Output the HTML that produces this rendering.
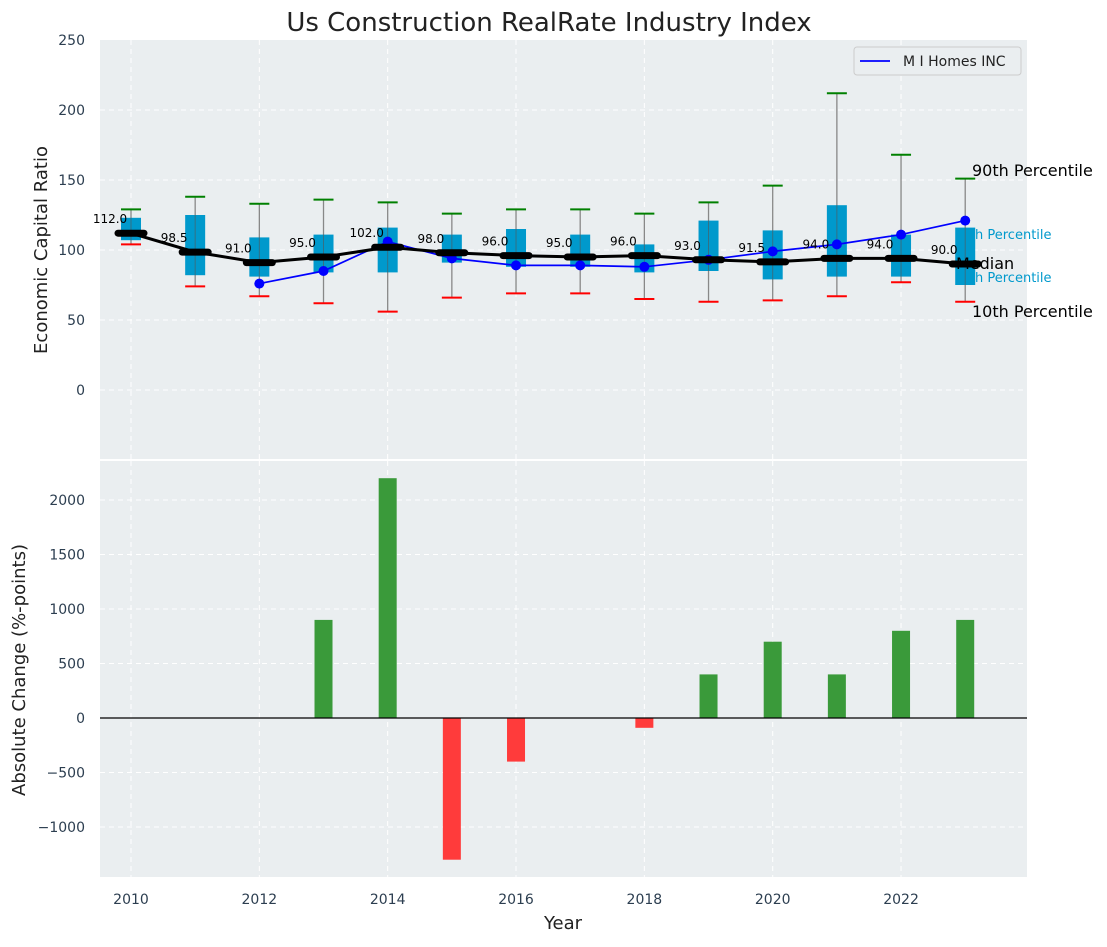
<!DOCTYPE html>
<html><head><meta charset="utf-8"><style>
body{margin:0;background:#fff;font-family:"Liberation Sans","DejaVu Sans",sans-serif;}
svg text{font-family:"DejaVu Sans","Liberation Sans",sans-serif;}
</style></head><body>
<svg id="c" width="1107" height="942" xmlns="http://www.w3.org/2000/svg"></svg>
<script>
const years=[2010,2011,2012,2013,2014,2015,2016,2017,2018,2019,2020,2021,2022,2023];
const medians=[112,98.5,91,95,102,98,96,95,96,93,91.5,94,94,90];
const q1=[107,82,81,84,84,91,88,88,84,85,79,81,81,75];
const q3=[123,125,109,111,116,111,115,111,104,121,114,132,111,116];
const p90=[129,138,133,136,134,126,129,129,126,134,146,212,168,151];
const p10=[104,74,67,62,56,66,69,69,65,63,64,67,77,63];
const companyYears=[2012,2013,2014,2015,2016,2017,2018,2019,2020,2021,2022,2023];
const companyVals=[76,85,106,94,89,89,88,93,99,104,111,121];
const changes=[0,0,0,900,2200,-1300,-400,0,-90,400,700,400,800,900];
const topTicks=[0,50,100,150,200,250];
const botTicks=[-1000,-500,0,500,1000,1500,2000];
const xTicks=[2010,2012,2014,2016,2018,2020,2022];

const svg=document.getElementById('c');
const NS='http://www.w3.org/2000/svg';
function el(t,a,p){const e=document.createElementNS(NS,t);for(const k in a)e.setAttribute(k,a[k]);(p||svg).appendChild(e);return e;}
const L=100,R=1027;
const x=v=>131+(v-2010)*64.17;
const yT=v=>390-1.4*v;
const yB=v=>718-0.109*v;

let t=el('text',{x:549,y:31,'text-anchor':'middle','font-size':26,fill:'#222'});t.textContent='Us Construction RealRate Industry Index';


let p=el('rect',{x:L,y:40,width:R-L,height:419,fill:'#eaeef0'});

p=el('rect',{x:L,y:461,width:R-L,height:416,fill:'#eaeef0'});


for(const v of topTicks){const y=yT(v);
 if(v<250) el('line',{x1:L,x2:R,y1:y,y2:y,stroke:'#fff','stroke-dasharray':'5,4','stroke-width':1});
 let tt=el('text',{x:85,y:y+5,'text-anchor':'end','font-size':14,fill:'#2c3e50'});tt.textContent=v;
 }
for(const v of botTicks){const y=yB(v);
 el('line',{x1:L,x2:R,y1:y,y2:y,stroke:'#fff','stroke-dasharray':'5,4','stroke-width':1});
 let tt=el('text',{x:85,y:y+5,'text-anchor':'end','font-size':14,fill:'#2c3e50'});tt.textContent=(v<0?'\u2212'+(-v):v);
 }
for(const v of xTicks){const xx=x(v);
 el('line',{x1:xx,x2:xx,y1:40,y2:459,stroke:'#fff','stroke-dasharray':'5,4'});
 el('line',{x1:xx,x2:xx,y1:461,y2:877,stroke:'#fff','stroke-dasharray':'5,4'});
 let tt=el('text',{x:xx,y:904,'text-anchor':'middle','font-size':14,fill:'#2c3e50'});tt.textContent=v;
 }

const ann=[['90th Percentile',972,176,16,'#000'],['10th Percentile',972,317,16,'#000']];
for(const a of ann){let tt=el('text',{x:a[1],y:a[2],'font-size':a[3],fill:a[4]});tt.textContent=a[0];
 }
const ann2=[['75th Percentile',239],['25th Percentile',282]];
for(const a of ann2){let tt=el('text',{x:975,y:a[1],'font-size':13,fill:'#0099cc'});
 tt.textContent='h Percentile';tt.setAttribute('data-full',a[0]);
 }

years.forEach((yr,i)=>{const xx=x(yr);
 let w=el('line',{x1:xx,x2:xx,y1:yT(p90[i]),y2:yT(p10[i]),stroke:'#888','stroke-width':1.3});
 
 let b=el('rect',{x:xx-10,y:yT(q3[i]),width:20,height:yT(q1[i])-yT(q3[i]),fill:'#0099cc'});
 
 el('line',{x1:xx,x2:xx,y1:yT(q3[i]),y2:yT(q1[i]),stroke:'#555','stroke-width':1,opacity:0.6});
 let h=el('line',{x1:xx-10,x2:xx+10,y1:yT(p90[i]),y2:yT(p90[i]),stroke:'green','stroke-width':2});
 
 let lo=el('line',{x1:xx-10,x2:xx+10,y1:yT(p10[i]),y2:yT(p10[i]),stroke:'red','stroke-width':2});
 
});
let cl=el('polyline',{points:companyYears.map((yr,i)=>x(yr)+','+yT(companyVals[i])).join(' '),fill:'none',stroke:'blue','stroke-width':1.7});

companyYears.forEach((yr,i)=>{let c=el('circle',{cx:x(yr),cy:yT(companyVals[i]),r:5,fill:'blue'});
 });
let ml=el('polyline',{points:years.map((yr,i)=>x(yr)+','+yT(medians[i])).join(' '),fill:'none',stroke:'#000','stroke-width':3});

years.forEach((yr,i)=>{const xx=x(yr),yy=yT(medians[i]);
 let m=el('line',{x1:xx-13,x2:xx+13,y1:yy,y2:yy,stroke:'#000','stroke-width':7,'stroke-linecap':'round'});
 
 let tt=el('text',{x:xx-21,y:yy-10,'text-anchor':'middle','font-size':12,fill:'#000'});tt.textContent=medians[i].toFixed(1);
 });
t=el('text',{x:956,y:269,'font-size':16,fill:'#000'});t.textContent='Median';


let lg=el('g',{});
el('rect',{x:854,y:47,width:167,height:28,rx:3,fill:'#eaeef0',stroke:'#ccc'},lg);
el('line',{x1:860,x2:890,y1:61,y2:61,stroke:'blue','stroke-width':1.7},lg);
t=el('text',{x:903,y:66,'font-size':14,fill:'#222'},lg);t.textContent='M I Homes INC';

years.forEach((yr,i)=>{const v=changes[i];if(v===0)return;const xx=x(yr);
 let b=el('rect',{x:xx-9,y:Math.min(yB(v),yB(0)),width:18,height:Math.abs(yB(v)-yB(0)),fill:v>0?'#3a9a3a':'#ff3b3b'});
 });
el('line',{x1:L,x2:R,y1:yB(0),y2:yB(0),stroke:'#000','stroke-width':1.2});

t=el('text',{x:47,y:250,'text-anchor':'middle','font-size':18,fill:'#222',transform:'rotate(-90 47 250)'});t.textContent='Economic Capital Ratio';

t=el('text',{x:25,y:670,'text-anchor':'middle','font-size':18,fill:'#222',transform:'rotate(-90 25 670)'});t.textContent='Absolute Change (%-points)';

t=el('text',{x:563,y:929,'text-anchor':'middle','font-size':18,fill:'#222'});t.textContent='Year';

</script>
</body></html>
